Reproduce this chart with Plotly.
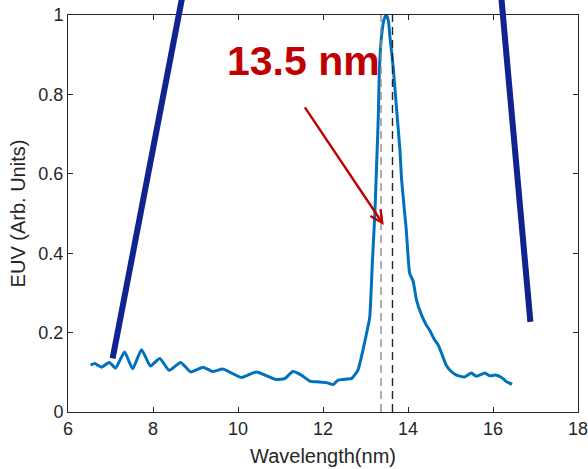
import plotly.graph_objects as go

# EUV spectrum (wavelength in nm, normalised intensity)
wavelength = [6.53, 6.63, 6.79, 6.97, 7.12, 7.33, 7.52, 7.73, 7.94, 8.16, 8.38,
              8.65, 8.89, 9.18, 9.40, 9.65, 10.08, 10.43, 10.90, 11.10, 11.29,
              11.49, 11.69, 11.85, 12.08, 12.24, 12.35, 12.55, 12.67, 12.82,
              12.94, 13.04, 13.10, 13.16, 13.22, 13.26, 13.30, 13.33, 13.38,
              13.44, 13.49, 13.54, 13.57, 13.65, 13.73, 13.81, 13.85, 13.96,
              14.04, 14.12, 14.20, 14.32, 14.43, 14.51, 14.63, 14.71, 14.80,
              14.90, 15.02, 15.14, 15.33, 15.49, 15.61, 15.81, 15.92, 16.06,
              16.20, 16.32, 16.45]
intensity = [0.118, 0.122, 0.113, 0.125, 0.111, 0.151, 0.109, 0.157, 0.116,
             0.135, 0.105, 0.125, 0.101, 0.113, 0.102, 0.108, 0.087, 0.101,
             0.082, 0.084, 0.102, 0.093, 0.078, 0.076, 0.074, 0.069, 0.080,
             0.083, 0.084, 0.105, 0.156, 0.206, 0.239, 0.374, 0.500, 0.618,
             0.740, 0.870, 0.950, 0.990, 1.000, 0.985, 0.950, 0.870, 0.765,
             0.660, 0.584, 0.458, 0.349, 0.330, 0.282, 0.244, 0.219, 0.206,
             0.181, 0.169, 0.145, 0.118, 0.102, 0.093, 0.088, 0.098, 0.090,
             0.098, 0.091, 0.093, 0.087, 0.076, 0.070]

# thick navy strokes (x in nm, y in axis units; they run off the top of the axes)
navy_left_x = [7.05, 8.72]
navy_left_y = [0.135, 1.063]
navy_right_x = [16.88, 16.18]
navy_right_y = [0.227, 1.063]

# dashed markers around 13.5 nm
dash_x = [13.365, 13.635]
dash_colors = ["#8c8c8c", "#262626"]

# arrow and label
arrow_tail = [11.55, 0.771]
arrow_head = [13.43, 0.471]
label_pos = [11.53, 0.885]
label_text = "13.5 nm"

x_ticks = [6, 8, 10, 12, 14, 16, 18]
y_ticks = [0, 0.2, 0.4, 0.6, 0.8, 1]
y_tick_text = ["0", "0.2", "0.4", "0.6", "0.8", "1"]

ink = "#262626"
font = "Arial, Liberation Sans, sans-serif"

fig = go.Figure()

fig.add_trace(go.Scatter(
    x=wavelength, y=intensity, mode="lines",
    line=dict(color="#0072BD", width=3, shape="spline", smoothing=0.5),
    showlegend=False, hoverinfo="skip"
))

shapes = []
# y range is [0, 1] over the full domain, so paper y equals data y here
for xs, ys in [(navy_left_x, navy_left_y), (navy_right_x, navy_right_y)]:
    shapes.append(dict(type="line", xref="x", yref="paper",
                       x0=xs[0], y0=ys[0], x1=xs[1], y1=ys[1],
                       line=dict(color="#10238f", width=6), layer="above"))
for xv, c in zip(dash_x, dash_colors):
    shapes.append(dict(type="line", xref="x", yref="y",
                       x0=xv, y0=0, x1=xv, y1=1,
                       line=dict(color=c, width=1.4, dash="8px,5px"), layer="above"))

fig.update_layout(
    width=588, height=469,
    margin=dict(l=68, r=10, t=15, b=57),
    paper_bgcolor="white", plot_bgcolor="white",
    font=dict(family=font, color=ink),
    shapes=shapes,
    annotations=[
        dict(x=arrow_head[0], y=arrow_head[1], ax=arrow_tail[0], ay=arrow_tail[1],
             xref="x", yref="y", axref="x", ayref="y", text="",
             showarrow=True, arrowhead=5, arrowsize=1, arrowwidth=2.4,
             arrowcolor="#C00000", standoff=0),
        dict(x=label_pos[0], y=label_pos[1], xref="x", yref="y", text=label_text,
             showarrow=False, xanchor="center", yanchor="middle",
             font=dict(family=font, size=41, color="#C00000", weight="bold")),
    ],
    xaxis=dict(
        range=[6, 18], tickvals=x_ticks, ticks="inside", ticklen=5, tickcolor=ink,
        showline=True, linecolor=ink, linewidth=1, mirror="ticks",
        showgrid=False, zeroline=False, automargin=False,
        ticklabeloverflow="allow",
        tickfont=dict(size=18, color=ink),
        title=dict(text="Wavelength(nm)", font=dict(size=20, color=ink), standoff=11),
    ),
    yaxis=dict(
        range=[0, 1], tickvals=y_ticks, ticktext=y_tick_text, ticks="inside",
        ticklen=5, tickcolor=ink,
        showline=True, linecolor=ink, linewidth=1, mirror="ticks",
        showgrid=False, zeroline=False, automargin=False,
        ticklabeloverflow="allow",
        tickfont=dict(size=18, color=ink),
        title=dict(text="EUV (Arb. Units)", font=dict(size=20, color=ink), standoff=7),
    ),
)

# drop the default page margin so the figure fills the window
fig.write_html("out.html", config={"displayModeBar": False},
               post_script="document.body.style.margin = '0';")
